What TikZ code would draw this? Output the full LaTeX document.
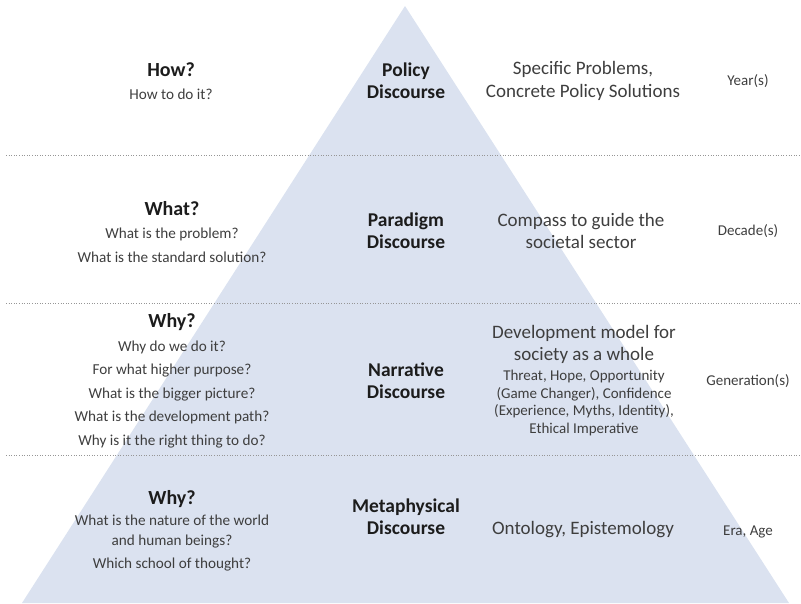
\documentclass[tikz,border=0pt]{standalone}
\usepackage{fontspec}
\setmainfont{Carlito}
\definecolor{pyramid}{RGB}{219,226,240}
\definecolor{bodytext}{RGB}{62,62,62}
\definecolor{headtext}{RGB}{28,28,28}
\definecolor{rulegray}{RGB}{150,150,150}
\newcommand{\qhead}[1]{{\fontsize{20}{24}\selectfont\bfseries\color{headtext}#1}}
\begin{document}
\begin{tikzpicture}[x=1pt,y=-1pt,
    every node/.style={inner sep=0pt, align=center, text=bodytext},
    question/.style={font=\fontsize{15.2}{23.5}\selectfont},
    discourse/.style={font=\fontsize{19.5}{22}\selectfont\bfseries, text=headtext},
    purpose/.style={font=\fontsize{19}{22.5}\selectfont},
    detail/.style={font=\fontsize{15}{17.5}\selectfont},
    span/.style={font=\fontsize{15}{17}\selectfont},
    layerline/.style={rulegray, dotted, line width=0.6pt}]
    \useasboundingbox (0,0) rectangle (801,603);
    % pyramid
    \fill[pyramid] (405,6) -- (22,603) -- (789,603) -- cycle;
    % layer borders
    \draw[layerline] (6,155) -- (800,155);
    \draw[layerline] (6,303) -- (800,303);
    \draw[layerline] (6,455) -- (800,455);
    % policy layer
    \node[question] (how) at (171,81) {\qhead{How?}\\How to do it?};
    \node[discourse] (policy) at (406,81) {Policy\\Discourse};
    \node[purpose] (problems) at (583,81) {Specific Problems,\\Concrete Policy Solutions};
    \node[span] (years) at (748,81) {Year(s)};
    % paradigm layer
    \node[question] (what) at (172,232) {\qhead{What?}\\What is the problem?\\What is the standard solution?};
    \node[discourse] (paradigm) at (406,231) {Paradigm\\Discourse};
    \node[purpose] (compass) at (581,231) {Compass to guide the\\societal sector};
    \node[span] (decades) at (748,231) {Decade(s)};
    % narrative layer
    \node[question] (why) at (172,381) {\qhead{Why?}\\Why do we do it?\\For what higher purpose?\\What is the bigger picture?\\What is the development path?\\Why is it the right thing to do?};
    \node[discourse] (narrative) at (406,381) {Narrative\\Discourse};
    \node[purpose, anchor=south] (model) at (584,364) {Development model for\\society as a whole};
    \node[detail, anchor=north] (threat) at (584,370) {Threat, Hope, Opportunity\\(Game Changer), Confidence\\(Experience, Myths, Identity),\\Ethical Imperative};
    \node[span] (generations) at (748,381) {Generation(s)};
    % metaphysical layer
    \node[question] (whyworld) at (172,531) {\qhead{Why?}\\[-2pt]What is the nature of the world\\[-4pt]and human beings?\\Which school of thought?};
    \node[discourse] (metaphysical) at (406,517) {Metaphysical\\Discourse};
    \node[purpose] (ontology) at (583,530) {Ontology, Epistemology};
    \node[span] (era) at (748,532) {Era, Age};
\end{tikzpicture}
\end{document}
